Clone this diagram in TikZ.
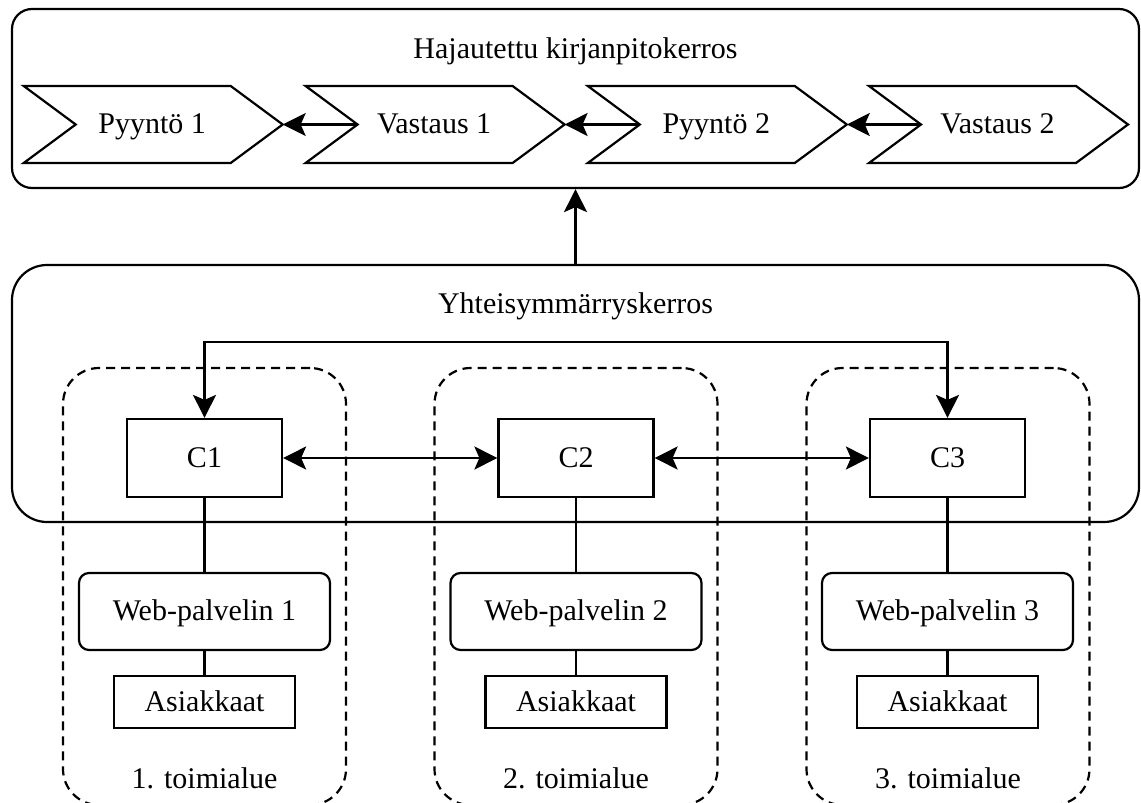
\documentclass[tikz,border=0pt]{standalone}
\usepackage{fontspec}
\setmainfont{Liberation Serif}
\usetikzlibrary{arrows.meta}
\tikzset{
  base/.style={line width=1.1pt, font=\fontsize{15}{18}\selectfont},
  layerbox/.style={draw, line width=1.1pt, inner sep=0pt},
  chev/.style={draw, line width=1.1pt, line join=miter},
  boxtext/.style={inner sep=0pt, text height=10.5pt, text depth=1.5pt},
  cbox/.style={draw, boxtext, line width=1.1pt, minimum width=77.5pt, minimum height=39pt},
  webbox/.style={draw, boxtext, line width=1.1pt, rounded corners=5pt, minimum width=125.5pt, minimum height=38.5pt},
  custbox/.style={draw, boxtext, line width=1.1pt, minimum width=90.5pt, minimum height=26pt},
  dombox/.style={draw, line width=1.1pt, dash pattern=on 4.5pt off 3pt, rounded corners=18pt, minimum width=141.5pt, minimum height=218.5pt, inner sep=0pt},
  txt/.style={inner sep=0pt, anchor=base},
  arr/.style={-{Stealth[length=11.5pt, width=11.5pt, inset=2.5pt]}, line width=1.1pt},
  arrboth/.style={{Stealth[length=11.5pt, width=11.5pt, inset=2.5pt]}-{Stealth[length=11.5pt, width=11.5pt, inset=2.5pt]}, line width=1.1pt},
  conn/.style={line width=1.1pt}
}
\begin{document}
\begin{tikzpicture}[x=0.5pt, y=-0.5pt, base]
\useasboundingbox (0,0) rectangle (1141,803);

% ledger layer
\node[layerbox, rounded corners=10pt, minimum width=563.5pt, minimum height=89.5pt] (ledger) at (575.5,98.5) {};
\node[txt] (ledgertitle) at (575.5,58) {Hajautettu kirjanpitokerros};

\foreach \i/\L/\t in {1/23.7/Pyyntö 1, 2/305.6/Vastaus 1, 3/587.8/Pyyntö 2, 4/869/Vastaus 2} {
  \draw[chev] (\L,86) -- ++(207,0) -- ++(52,38.5) -- ++(-52,38.5) -- ++(-207,0) -- ++(52,-38.5) -- cycle;
  \coordinate (tip\i) at (\L+259,124.5);
  \coordinate (notch\i) at (\L+52,124.5);
  \node[txt] (lab\i) at (\L+128.5,133) {\t};
}
\draw[arr] (notch2) -- (tip1);
\draw[arr] (notch3) -- (tip2);
\draw[arr] (notch4) -- (tip3);

% consensus layer
\node[layerbox, rounded corners=17.5pt, minimum width=563.5pt, minimum height=128.5pt] (cons) at (575.5,393.5) {};
\node[txt] (constitle) at (575.5,313) {Yhteisymmärryskerros};
\draw[arr] (cons.north) -- (ledger.south);

% domains
\foreach \i/\X in {1/204.5, 2/576, 3/948} {
  \node[dombox] (d\i) at (\X,586.5) {};
  \node[txt] (dl\i) at (\X,788) {\i. toimialue};
}

% nodes
\foreach \i/\X in {1/204.5, 2/576, 3/947.5} {
  \node[cbox] (c\i) at (\X,458) {C\i};
  \node[webbox] (w\i) at (\X,611.5) {Web-palvelin \i};
  \node[custbox] (a\i) at (\X,702) {Asiakkaat};
  \draw[conn] (c\i) -- (w\i);
  \draw[conn] (w\i) -- (a\i);
}

\draw[arrboth] (c1) -- (c2);
\draw[arrboth] (c2) -- (c3);
\draw[arrboth] (c1.north) -- ++(0,-76) -| (c3.north);
\end{tikzpicture}
\end{document}
